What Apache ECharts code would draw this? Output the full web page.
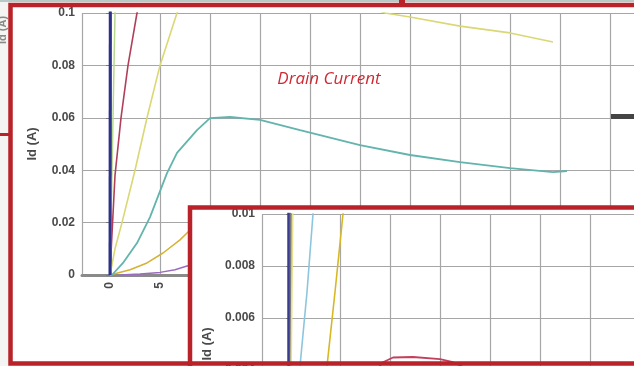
<!DOCTYPE html>
<html><head><meta charset="utf-8">
<script src="https://cdn.jsdelivr.net/npm/echarts@6/dist/echarts.min.js"></script>
<style>html,body{margin:0;padding:0;background:#fff}#c{width:634px;height:366px}</style>
</head><body><div id="c"></div>
<script>
// ---------- main chart data (Vds in V, Id in A) ----------
const mainNavyV   = [0, 0.03];
const mainNavyI   = [0, 0.12];
const mainGreenV  = [0, 0.2, 0.5, 0.6];
const mainGreenI  = [0, 0.04, 0.1, 0.12];
const mainRedV    = [0, 0.15, 0.5, 1.1, 1.8, 2.7, 3.2];
const mainRedI    = [0, 0.012, 0.038, 0.06, 0.08, 0.1, 0.11];
const mainPaleV   = [0, 0.5, 1.2, 2.5, 3.7, 5, 6.7, 8.5, 12, 17, 22, 27.5, 30, 35, 40, 44.3];
const mainPaleI   = [0, 0.01, 0.02, 0.04, 0.06, 0.08, 0.1, 0.112, 0.12, 0.118, 0.109, 0.1, 0.0985, 0.095, 0.0924, 0.0889];
const mainTealV   = [0.2, 1.3, 2.7, 4, 5.7, 6.7, 8.7, 10, 12, 15, 19, 25, 30, 35, 40, 44.3, 45.7];
const mainTealI   = [0, 0.0046, 0.0122, 0.0221, 0.0389, 0.0466, 0.0553, 0.0599, 0.0603, 0.0592, 0.0553, 0.0496, 0.0458, 0.0431, 0.0408, 0.0393, 0.0397];
const mainOrangeV = [0, 2, 3.7, 5.3, 7, 7.8, 9, 10.5];
const mainOrangeI = [0, 0.002, 0.0046, 0.0084, 0.0134, 0.0164, 0.02, 0.025];
const mainPurpleV = [1, 3, 5, 6.5, 7.7, 9];
const mainPurpleI = [0, 0.0004, 0.001, 0.002, 0.0034, 0.0042];

// ---------- inset chart data ----------
const insetNavyV   = [-0.15, -0.15];
const insetNavyI   = [0, 0.011];
const insetPaleV   = [0, 0.3];
const insetPaleI   = [0, 0.011];
const insetCyanV   = [0, 0.5, 1.0, 1.7, 2.3, 2.6];
const insetCyanI   = [0, 0.002, 0.00415, 0.007, 0.01, 0.0115];
const insetYellowV = [1.5, 2.5, 3.7, 4.5, 5.3, 5.6];
const insetYellowI = [0, 0.002, 0.00415, 0.007, 0.01, 0.011];
const insetRedV    = [6, 7, 8.2, 9.3, 10.3, 12.3, 15, 16.3, 18, 20];
const insetRedI    = [0.0022, 0.003, 0.0038, 0.0043, 0.00448, 0.0045, 0.00442, 0.0043, 0.004, 0.0036];

// ---------- axis settings ----------
const xMin = -2.8, xMax = 55, xStep = 5;
const mainYMax = 0.1, mainYStep = 0.02;
const insetYMax = 0.01, insetYStep = 0.002;
const titleText = 'Drain Current';
const yName = 'Id (A)';

const pairs = (xs, ys) => xs.map((x, i) => [x, ys[i]]);
const RED = '#b82228';
const labelStyle = { color: '#4a4a4a', fontWeight: 'bold', fontSize: 12, fontFamily: 'Liberation Sans, Arial' };

function line(xs, ys, color, width, idx, z) {
  return { type: 'line', xAxisIndex: idx, yAxisIndex: idx, data: pairs(xs, ys), showSymbol: false,
    lineStyle: { color, width }, z, animation: false, silent: true };
}

function xAx(idx, z, showLabel) {
  return { type: 'value', gridIndex: idx, min: xMin, max: xMax, splitNumber: 12, minInterval: xStep, maxInterval: xStep, z,
    axisLine: { show: true, onZero: false, lineStyle: { color: '#8a8a8a', width: 3 } },
    axisTick: { show: false },
    axisLabel: { show: showLabel, rotate: 90, margin: 7, ...labelStyle, formatter: v => v < 0 ? '' : String(v) },
    splitLine: { show: true, lineStyle: { color: '#a6a6a6', width: 1.2 } } };
}
function yAx(idx, z, max, step, gap) {
  return { type: 'value', gridIndex: idx, min: 0, max, interval: step, z,
    name: yName, nameLocation: 'middle', nameGap: gap, nameRotate: 90,
    nameTextStyle: { color: '#4a4a4a', fontWeight: 'bold', fontSize: 13, fontFamily: 'Liberation Sans, Arial' },
    axisLine: { show: true, lineStyle: { color: '#7a7a7a', width: 2.5 } },
    axisTick: { show: true, length: 4, lineStyle: { color: '#7a7a7a' } },
    axisLabel: { margin: 7, ...labelStyle },
    splitLine: { show: true, lineStyle: { color: '#a6a6a6', width: 1.2 } } };
}

const option = {
  backgroundColor: '#fff',
  animation: false,
  grid: [
    { left: 82, top: 13, width: 578, height: 262, z: 0, containLabel: false, outerBoundsMode: 'none' },
    { left: 262, top: 214, width: 578, height: 260, z: 20, containLabel: false, outerBoundsMode: 'none' }
  ],
  xAxis: [xAx(0, 0, true), xAx(1, 20, false)],
  yAxis: [yAx(0, 0, mainYMax, mainYStep, 43), yAx(1, 20, insetYMax, insetYStep, 40)],
  series: [
    line(mainPurpleV, mainPurpleI, '#9a6cc0', 1.5, 0, 2),
    line(mainOrangeV, mainOrangeI, '#d6b232', 1.5, 0, 2),
    line(mainTealV, mainTealI, '#62b4ac', 1.8, 0, 2),
    line(mainPaleV, mainPaleI, '#d9d874', 1.6, 0, 2),
    line(mainRedV, mainRedI, '#b0405a', 1.6, 0, 2),
    line(mainGreenV, mainGreenI, '#b6d88c', 1.5, 0, 2),
    line(mainNavyV, mainNavyI, '#2e3188', 3, 0, 3),
    line(insetRedV, insetRedI, '#c2405e', 1.8, 1, 22),
    line(insetYellowV, insetYellowI, '#d8b822', 1.6, 1, 22),
    line(insetCyanV, insetCyanI, '#8cc6de', 1.6, 1, 22),
    line(insetPaleV, insetPaleI, '#e6e08e', 1.6, 1, 22),
    line(insetNavyV, insetNavyI, '#3a3c90', 2.5, 1, 23)
  ],
  graphic: { elements: [
    { type: 'rect', z: 10, silent: true, shape: { x: 190, y: 207, width: 500, height: 200 }, style: { fill: '#fff' } },
    { type: 'rect', z: 30, silent: true, shape: { x: 0, y: 0, width: 634, height: 2 }, style: { fill: '#b7cbc6' } },
    { type: 'rect', z: 30, silent: true, shape: { x: 0, y: 2, width: 10, height: 364 }, style: { fill: '#f4f4f2' } },
    { type: 'text', z: 31, silent: true, x: 3, y: 30, rotation: Math.PI / 2,
      style: { text: yName, fill: '#888', fontSize: 11, fontWeight: 'bold', fontFamily: 'Liberation Sans, Arial', align: 'center', verticalAlign: 'middle' } },
    { type: 'rect', z: 32, silent: true, shape: { x: 0, y: 133, width: 10, height: 3 }, style: { fill: RED } },
    { type: 'rect', z: 32, silent: true, shape: { x: 10.5, y: 5, width: 700, height: 358.5 }, style: { fill: null, stroke: RED, lineWidth: 4.5 } },
    { type: 'rect', z: 32, silent: true, shape: { x: 399, y: 0, width: 6, height: 5 }, style: { fill: RED } },
    { type: 'rect', z: 32, silent: true, shape: { x: 190, y: 207.5, width: 500, height: 200 }, style: { fill: null, stroke: RED, lineWidth: 4.5 } },
    { type: 'rect', z: 31, silent: true, shape: { x: 611, y: 114, width: 23, height: 5 }, style: { fill: '#444' } },
    { type: 'text', z: 31, silent: true, x: 329, y: 79,
      style: { text: titleText, fill: '#cf2a33', fontSize: 17, fontStyle: 'italic', fontFamily: 'Open Sans', align: 'center', verticalAlign: 'middle' } }
  ] }
};
const chart = echarts.init(document.getElementById('c'), null, { renderer: 'canvas' });
chart.setOption(option);
</script></body></html>
